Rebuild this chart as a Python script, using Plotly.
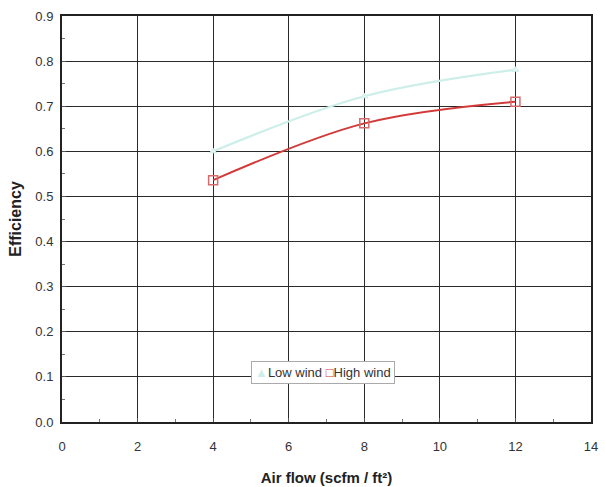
import plotly.graph_objects as go

air_flow = [4, 8, 12]
low_wind = [0.600, 0.722, 0.781]
high_wind = [0.536, 0.662, 0.710]

x_ticks = [0, 2, 4, 6, 8, 10, 12, 14]
y_ticks = [0.0, 0.1, 0.2, 0.3, 0.4, 0.5, 0.6, 0.7, 0.8, 0.9]
series_names = ["Low wind", "High wind"]

LOW_C = "#cdeee9"
HIGH_C = "#d23a3a"
FONT = "Liberation Sans, Arial, sans-serif"

fig = go.Figure()
fig.add_trace(go.Scatter(
    x=air_flow, y=low_wind, name=series_names[0], mode="lines+markers", showlegend=False,
    line=dict(color=LOW_C, width=2.2, shape="spline"),
    marker=dict(symbol="triangle-up", size=6, color="#e6f6f3", line=dict(color=LOW_C, width=1)),
))
fig.add_trace(go.Scatter(
    x=air_flow, y=high_wind, name=series_names[1], mode="lines+markers", showlegend=False,
    line=dict(color=HIGH_C, width=2, shape="spline"),
    marker=dict(symbol="square-open", size=9, color="#d76a6a", line=dict(width=1.5)),
))

axis_common = dict(
    showline=True, linecolor="#222", linewidth=2, mirror=True,
    showgrid=True, gridcolor="#2a2a2a", gridwidth=1.3, zeroline=False,
    ticks="inside", ticklen=4, tickcolor="#555", automargin=False,
    tickfont=dict(family=FONT, size=13, color="#333"),
    minor=dict(ticks="inside", ticklen=3, tickcolor="#777", showgrid=False),
)

fig.update_layout(
    width=605, height=487,
    margin=dict(l=62, r=14, t=16, b=65),
    paper_bgcolor="white", plot_bgcolor="white",
    font=dict(family=FONT, color="#222"),
    xaxis=dict(range=[0, 14], tickvals=x_ticks, ticktext=[str(v) for v in x_ticks],
               ticklabelstandoff=11,
               title=dict(text="<b>Air flow (scfm / ft²)</b>", font=dict(size=15), standoff=20),
               **axis_common),
    yaxis=dict(range=[0, 0.9], tickvals=y_ticks, ticktext=[f"{v:.1f}" for v in y_ticks],
               ticklabelstandoff=4,
               title=dict(text="<b>Efficiency</b>", font=dict(size=16), standoff=10),
               **axis_common),
    showlegend=False,
)

legend_text = (f"<span style='color:{LOW_C}'>▲</span>{series_names[0]} "
               f"<span style='color:{HIGH_C}'>□</span>{series_names[1]}")
fig.add_annotation(
    xref="paper", yref="paper", x=0.494, y=0.121, xanchor="center", yanchor="middle",
    text=legend_text, showarrow=False, align="center",
    font=dict(family=FONT, size=13, color="#333"),
    bgcolor="white", bordercolor="#aaa", borderwidth=1, borderpad=3,
)

fig.write_html("out.html", config={"displayModeBar": False},
               post_script="document.body.style.margin='0';")
